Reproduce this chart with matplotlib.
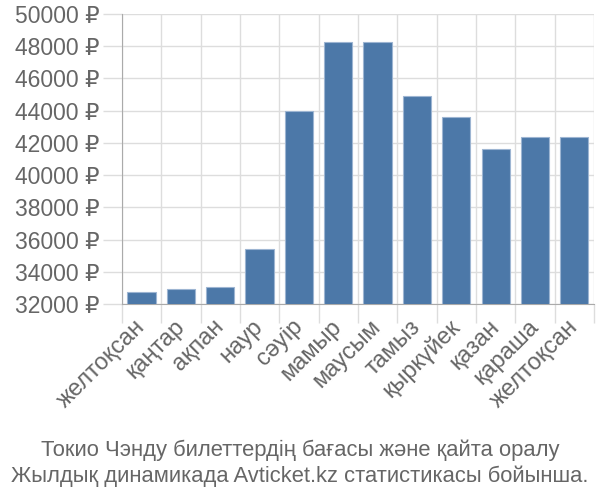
# coding: utf-8
import numpy as np
import matplotlib
matplotlib.use('Agg')
from matplotlib import pyplot as plt
from matplotlib.ticker import FixedLocator

# データ
months = ['желтоқсан', 'қаңтар', 'ақпан', 'наур', 'сәуір', 'мамыр', 'маусым',
          'тамыз', 'қыркүйек', 'қазан', 'қараша', 'желтоқсан']
prices = [32760, 32930, 33030, 35400, 43980, 48240, 48240,
          44890, 43610, 41620, 42370, 42370]
yticks = list(range(32000, 50001, 2000))
caption = ('Токио Чэнду билеттердің бағасы және қайта оралу\n'
           'Жылдық динамикада Avticket.kz статистикасы бойынша.')

plt.rcParams['font.family'] = ['Liberation Sans', 'DejaVu Sans']

fig = plt.figure(figsize=(6, 5), dpi=100)
ax = fig.add_axes([0.2033, 0.392, 0.7867, 0.58])

x = np.arange(len(months))
ax.bar(x, prices, width=0.72, bottom=0, color='#4c78a8',
       edgecolor='#9db5d2', linewidth=0.8, zorder=3)

ax.set_xlim(-0.5, len(months) - 0.5)
ax.set_ylim(32000, 50000)

# 目盛り
ax.set_yticks(yticks)
ax.set_yticklabels([f'{v} ₽' for v in yticks])
ax.set_xticks(x)
ax.set_xticklabels(months, rotation=45, ha='right', va='center',
                   rotation_mode='anchor')
ax.xaxis.set_minor_locator(FixedLocator(np.arange(-0.5, len(months), 1.0)))

ax.tick_params(axis='x', which='major', length=0, pad=14,
               labelsize=17, labelcolor='#666666')
ax.tick_params(axis='x', which='minor', length=14, width=1, color='#dddddd')
ax.tick_params(axis='y', length=14, width=1, color='#dddddd', pad=2,
               labelsize=16.5, labelcolor='#666666')

ax.grid(True, axis='y', which='major', color='#dddddd', linewidth=1, zorder=0)
ax.grid(True, axis='x', which='minor', color='#dddddd', linewidth=1, zorder=0)

for s in ['top', 'right']:
    ax.spines[s].set_visible(False)
ax.spines['left'].set_color('#aaaaaa')
ax.spines['bottom'].set_color('#aaaaaa')

# キャプション
fig.text(0.5, 0.073, caption, ha='center', va='center', fontsize=15.8,
         color='#666666', linespacing=1.28)

fig.savefig('out.png', dpi=100)
